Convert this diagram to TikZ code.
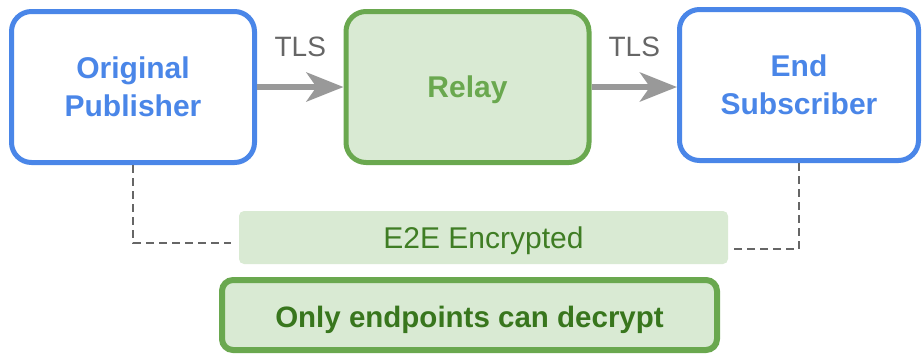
\documentclass[tikz,border=0pt]{standalone}
\usepackage{fontspec}
\setmainfont{Liberation Sans}
\usetikzlibrary{arrows.meta}
\definecolor{endblue}{HTML}{4A86E8}
\definecolor{relaygreen}{HTML}{6AA84F}
\definecolor{relayfill}{HTML}{D9EAD3}
\definecolor{darkgreen}{HTML}{38761D}
\definecolor{tlsgray}{HTML}{999999}
\definecolor{dashgray}{HTML}{666666}

\begin{document}
\begin{tikzpicture}[x=1pt,y=-1pt,
  party/.style={draw=endblue, fill=white, text=endblue, rounded corners=20pt, line width=5pt,
    minimum width=243pt, minimum height=151pt, align=center, text depth=0pt,
    font=\fontsize{30}{38}\selectfont\bfseries},
  relaybox/.style={party, draw=relaygreen, fill=relayfill, text=relaygreen},
  tls/.style={draw=tlsgray, line width=6pt, -{Stealth[length=37pt,width=29pt,inset=10pt]}},
  tlslabel/.style={midway, yshift=40pt, text=dashgray, font=\fontsize{28}{34}\selectfont},
  dashline/.style={draw=dashgray, line width=2pt, dash pattern=on 8pt off 5pt}]
\useasboundingbox (0,0) rectangle (923,354);
\node[party] (pub) at (133,87) {Original\\Publisher};
\node[relaybox] (relay) at (467.5,87) {Relay};
\node[party, minimum width=239pt] (sub) at (799,85) {End\\Subscriber};
\node[fill=relayfill, rounded corners=5pt, minimum width=489pt, minimum height=53pt, text depth=0pt,
  text=darkgreen!85!relaygreen, font=\fontsize{30}{34}\selectfont] (e2e) at (483.5,237.5) {E2E Encrypted};
\node[draw=relaygreen, fill=relayfill, line width=6pt, rounded corners=11pt,
  minimum width=495pt, minimum height=70pt, text height=25pt, text depth=0pt, text=darkgreen,
  font=\fontsize{29.5}{34}\selectfont\bfseries] (note) at (469.5,315) {Only endpoints can decrypt};
\path[tls] (pub.east) -- node[tlslabel] (tls1) {TLS} (relay.west);
\path[tls] (relay.east) -- node[tlslabel] (tls2) {TLS} (relay.east -| sub.west);
% dashed links down to the encrypted band
\coordinate (lend) at (231,243);
\coordinate (rend) at (734,249);
\path[dashline] (pub.south) |- (lend);
\path[dashline] (sub.south) |- (rend);
\end{tikzpicture}
\end{document}
